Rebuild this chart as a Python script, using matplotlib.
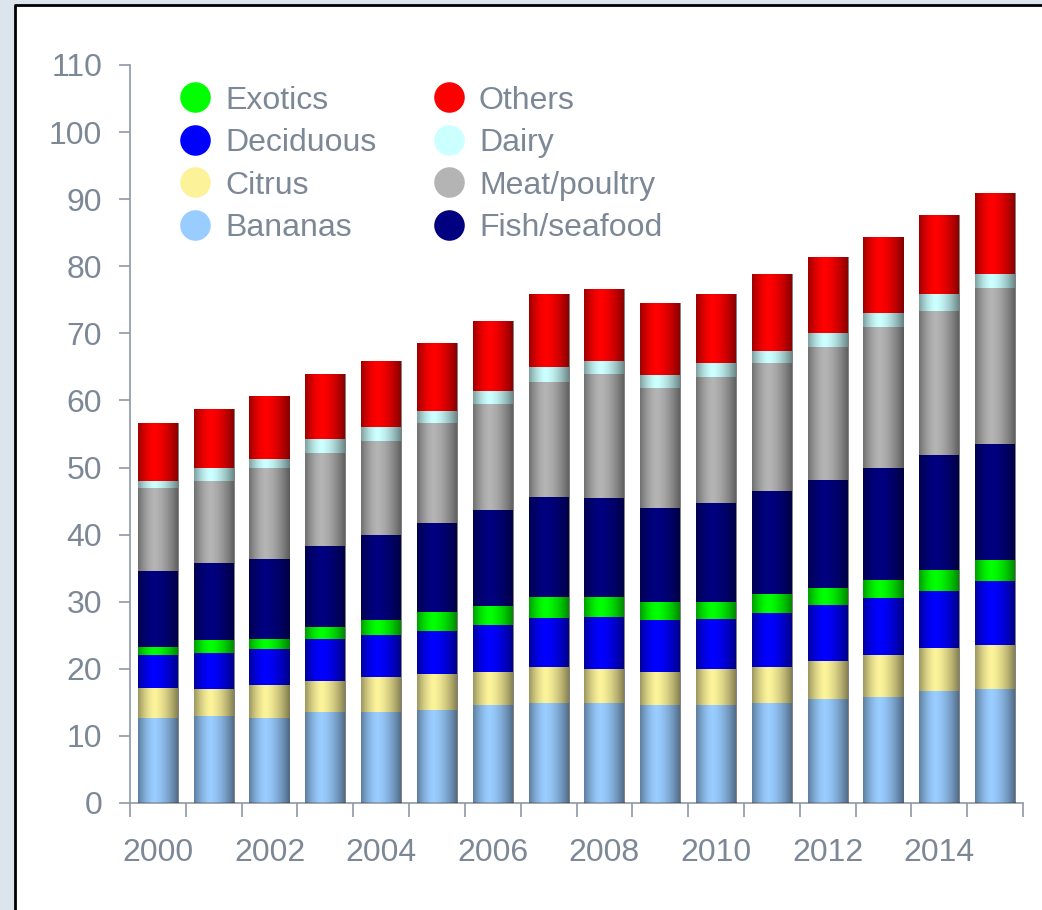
import matplotlib
matplotlib.use('Agg')
import matplotlib.pyplot as plt
from matplotlib.patches import Rectangle
from matplotlib.lines import Line2D
import numpy as np

plt.rcParams['font.family'] = ['Liberation Sans', 'DejaVu Sans']

# data (stacked, bottom -> top)
years = list(range(2000, 2016))
bananas = [12.6, 12.9, 12.6, 13.5, 13.5, 13.9, 14.6, 14.9, 14.9, 14.6, 14.6, 14.9, 15.5, 15.8, 16.7, 17.0]
citrus = [4.5, 4.1, 5.0, 4.7, 5.3, 5.3, 4.9, 5.3, 5.1, 4.9, 5.4, 5.4, 5.7, 6.3, 6.4, 6.5]
deciduous = [5.0, 5.4, 5.4, 6.2, 6.2, 6.5, 7.0, 7.4, 7.7, 7.8, 7.4, 8.0, 8.3, 8.4, 8.5, 9.6]
exotics = [1.2, 1.9, 1.5, 1.9, 2.3, 2.7, 2.8, 3.1, 3.0, 2.6, 2.5, 2.8, 2.5, 2.7, 3.1, 3.1]
fish = [11.3, 11.5, 11.9, 12.0, 12.7, 13.4, 14.3, 14.9, 14.7, 14.0, 14.8, 15.4, 16.1, 16.7, 17.2, 17.3]
meat = [12.3, 12.2, 13.5, 13.9, 13.9, 14.9, 15.8, 17.1, 18.5, 17.9, 18.8, 19.1, 19.9, 21.1, 21.5, 23.2]
dairy = [1.1, 1.9, 1.4, 2.1, 2.2, 1.8, 2.0, 2.3, 2.0, 2.0, 2.1, 1.8, 2.1, 2.1, 2.4, 2.1]
others = [8.7, 8.9, 9.3, 9.6, 9.8, 10.1, 10.5, 10.8, 10.7, 10.7, 10.2, 11.4, 11.3, 11.3, 11.9, 12.1]

series = [
    ('Bananas', bananas, '#99ccff'),
    ('Citrus', citrus, '#fbf29a'),
    ('Deciduous', deciduous, '#0000ff'),
    ('Exotics', exotics, '#00ff00'),
    ('Fish/seafood', fish, '#000080'),
    ('Meat/poultry', meat, '#b4b4b4'),
    ('Dairy', dairy, '#ccffff'),
    ('Others', others, '#ff0000'),
]
legend_order = ['Exotics', 'Deciduous', 'Citrus', 'Bananas',
                'Others', 'Dairy', 'Meat/poultry', 'Fish/seafood']

grey = '#8d98a5'
txt = '#7d8896'

fig = plt.figure(figsize=(10.42, 9.10), dpi=100, facecolor='#dce5ee')

# white panel with black border on left/top
fig.add_artist(Rectangle((15/1042, 0), 1 - 15/1042, 905/910, transform=fig.transFigure,
                         facecolor='white', edgecolor='none', zorder=0))
fig.add_artist(Line2D([15/1042, 15/1042, 1], [0, 905/910, 905/910], transform=fig.transFigure,
                      color='black', lw=2, zorder=1))

ax = fig.add_axes([130/1042, 1 - 803/910, (1023 - 130)/1042, (803 - 65)/910])
ax.set_facecolor('none')

x = np.arange(len(years))
w = 0.72

# cylinder-like shading profile
t = np.linspace(0, 1, 64)
prof = np.where(t < 0.4, 0.38 * ((0.4 - t) / 0.4) ** 1.6, 0.5 * ((t - 0.4) / 0.6) ** 1.6)
shade = np.zeros((1, len(t), 4))
shade[0, :, 3] = prof

bottom = np.zeros(len(years))
handles = {}
for name, vals, col in series:
    bars = ax.bar(x, vals, w, bottom=bottom, color=col, edgecolor='none', zorder=2)
    for p in bars:
        x0, y0 = p.get_x(), p.get_y()
        im = ax.imshow(shade, extent=[x0, x0 + p.get_width(), y0, y0 + p.get_height()],
                       aspect='auto', interpolation='bilinear', zorder=3)
        im.set_clip_path(p)
    bottom += np.array(vals)
    handles[name] = Line2D([], [], ls='none', marker='o', markersize=22,
                           markerfacecolor=col, markeredgecolor='none')

ax.set_xlim(-0.5, len(years) - 0.5)
ax.set_ylim(0, 110)

for s in ['top', 'right']:
    ax.spines[s].set_visible(False)
for s in ['left', 'bottom']:
    ax.spines[s].set_color(grey)
    ax.spines[s].set_linewidth(1.2)

ax.set_yticks(range(0, 111, 10))
ax.tick_params(axis='y', direction='out', length=8, width=1.2, color=grey,
               labelcolor=txt, labelsize=23, pad=12)

ax.set_xticks(x[::2])
ax.set_xticklabels([str(y) for y in years[::2]])
ax.set_xticks(np.arange(-0.5, len(years)), minor=True)
ax.tick_params(axis='x', which='major', length=0, labelcolor=txt, labelsize=23, pad=25)
ax.tick_params(axis='x', which='minor', direction='out', length=10, width=1.2, color=grey)

leg = ax.legend([handles[n] for n in legend_order], legend_order, ncol=2,
                loc='upper left', bbox_to_anchor=(0.055, 0.972), frameon=False,
                fontsize=23, handlelength=1.0, handletextpad=0.45,
                columnspacing=1.75, labelspacing=0.39, borderpad=0, borderaxespad=0)
for tx in leg.get_texts():
    tx.set_color(txt)

fig.savefig('out.png', dpi=100, facecolor=fig.get_facecolor())
